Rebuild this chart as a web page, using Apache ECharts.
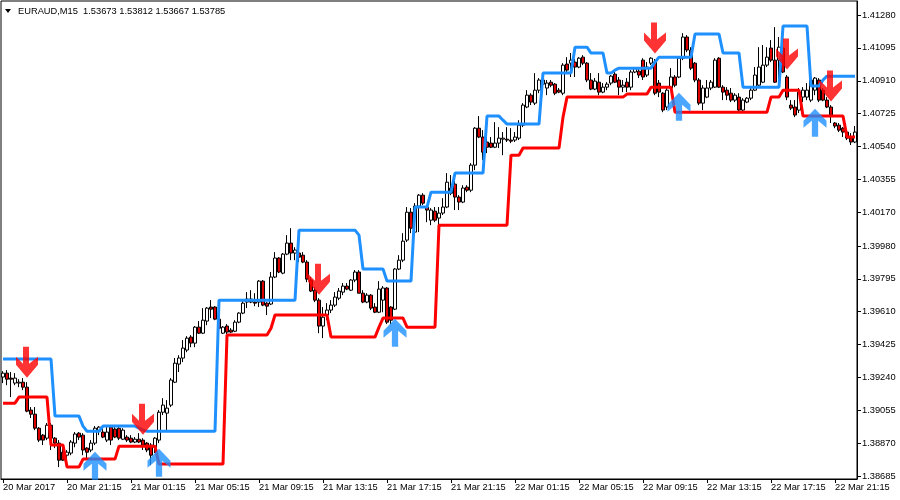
<!DOCTYPE html>
<html>
<head>
<meta charset="utf-8">
<script src="https://cdn.jsdelivr.net/npm/echarts@6/dist/echarts.min.js"></script>
<style>html,body{margin:0;padding:0;background:#fff}#c{width:900px;height:500px}</style>
</head>
<body>
<div id="c"></div>
<script>
const titleText = 'EURAUD,M15  1.53673 1.53812 1.53667 1.53785';
const tickLabelsX = ['20 Mar 2017','20 Mar 21:15','21 Mar 01:15','21 Mar 05:15','21 Mar 09:15','21 Mar 13:15','21 Mar 17:15','21 Mar 21:15','22 Mar 01:15','22 Mar 05:15','22 Mar 09:15','22 Mar 13:15','22 Mar 17:15','22 Mar 21:15'];
const yTicks = [1.38685,1.38870,1.39055,1.39240,1.39425,1.39610,1.39795,1.39980,1.40170,1.40355,1.40540,1.40725,1.40910,1.41095,1.41280];

// [open, close, low, high] per M15 bar
const ohlc = [
[1.39242,1.39264,1.39208,1.39275],[1.39264,1.39230,1.39196,1.39281],[1.39236,1.39230,1.39129,1.39270],[1.39208,1.39236,1.39196,1.39264],
[1.39208,1.39213,1.39185,1.39230],[1.39213,1.39185,1.39168,1.39236],[1.39185,1.39050,1.39044,1.39213],[1.39056,1.39033,1.39011,1.39073],
[1.39033,1.38954,1.38943,1.39073],[1.38954,1.38887,1.38876,1.38960],[1.38915,1.38887,1.38859,1.38921],[1.38898,1.38971,1.38887,1.38983],
[1.38971,1.38898,1.38831,1.38983],[1.38898,1.38870,1.38842,1.38904],[1.38870,1.38774,1.38735,1.38887],[1.38819,1.38774,1.38769,1.38847],
[1.38802,1.38819,1.38774,1.38831],[1.38814,1.38876,1.38802,1.38887],[1.38870,1.38921,1.38847,1.38932],[1.38926,1.38904,1.38887,1.38932],
[1.38915,1.38831,1.38802,1.38926],[1.38842,1.38819,1.38785,1.38847],[1.38831,1.38870,1.38819,1.38887],[1.38870,1.38954,1.38859,1.38966],
[1.38937,1.38960,1.38915,1.38966],[1.38932,1.38904,1.38898,1.38960],[1.38887,1.38932,1.38876,1.38960],[1.38960,1.38887,1.38859,1.38971],
[1.38949,1.38904,1.38898,1.38960],[1.38954,1.38898,1.38887,1.38960],[1.38892,1.38943,1.38887,1.38954],[1.38904,1.38887,1.38876,1.38915],
[1.38898,1.38876,1.38870,1.38915],[1.38876,1.38892,1.38870,1.38904],[1.38892,1.38876,1.38870,1.38926],[1.38887,1.38859,1.38831,1.38898],
[1.38870,1.38831,1.38819,1.38876],[1.38859,1.38802,1.38746,1.38870],[1.38847,1.38898,1.38814,1.38904],[1.38887,1.39044,1.38870,1.39056],
[1.39044,1.39084,1.39028,1.39123],[1.39039,1.39067,1.38943,1.39112],[1.39084,1.39225,1.39073,1.39236],[1.39213,1.39320,1.39208,1.39349],
[1.39315,1.39349,1.39270,1.39365],[1.39349,1.39405,1.39326,1.39450],[1.39394,1.39461,1.39382,1.39472],[1.39467,1.39433,1.39410,1.39478],
[1.39433,1.39523,1.39410,1.39529],[1.39523,1.39489,1.39484,1.39557],[1.39489,1.39562,1.39484,1.39630],[1.39557,1.39630,1.39534,1.39636],
[1.39636,1.39624,1.39574,1.39675],[1.39636,1.39568,1.39562,1.39641],[1.39568,1.39517,1.39484,1.39579],[1.39489,1.39523,1.39484,1.39529],
[1.39529,1.39495,1.39484,1.39540],[1.39506,1.39495,1.39489,1.39517],[1.39500,1.39551,1.39495,1.39562],[1.39551,1.39602,1.39545,1.39607],
[1.39602,1.39658,1.39596,1.39675],[1.39664,1.39681,1.39630,1.39720],[1.39681,1.39664,1.39658,1.39731],[1.39664,1.39658,1.39641,1.39714],
[1.39664,1.39782,1.39636,1.39788],[1.39782,1.39647,1.39641,1.39788],[1.39658,1.39641,1.39591,1.39664],[1.39653,1.39805,1.39647,1.39833],
[1.39805,1.39912,1.39799,1.39945],[1.39912,1.39833,1.39827,1.39917],[1.39827,1.39934,1.39821,1.39940],[1.39934,1.39996,1.39928,1.40041],
[1.39996,1.39940,1.39900,1.40080],[1.39940,1.39957,1.39900,1.39973],[1.39940,1.39917,1.39889,1.39957],[1.39928,1.39889,1.39883,1.39945],
[1.39889,1.39793,1.39776,1.39900],[1.39788,1.39726,1.39720,1.39805],[1.39731,1.39675,1.39664,1.39748],[1.39675,1.39529,1.39489,1.39686],
[1.39529,1.39579,1.39461,1.39636],[1.39591,1.39619,1.39562,1.39658],[1.39619,1.39647,1.39602,1.39675],[1.39647,1.39692,1.39636,1.39720],
[1.39686,1.39726,1.39675,1.39743],[1.39720,1.39754,1.39703,1.39771],[1.39754,1.39737,1.39731,1.39771],[1.39731,1.39788,1.39726,1.39793],
[1.39788,1.39833,1.39776,1.39844],[1.39833,1.39714,1.39714,1.39844],[1.39714,1.39664,1.39658,1.39731],[1.39664,1.39703,1.39658,1.39714],
[1.39703,1.39630,1.39619,1.39709],[1.39636,1.39607,1.39602,1.39658],[1.39607,1.39737,1.39602,1.39782],[1.39675,1.39743,1.39607,1.39754],
[1.39743,1.39551,1.39540,1.39748],[1.39636,1.39562,1.39540,1.39641],[1.39624,1.39850,1.39619,1.39855],[1.39850,1.39900,1.39844,1.39928],
[1.39900,1.40007,1.39889,1.40052],[1.40013,1.40170,1.40002,1.40199],[1.40170,1.40080,1.40052,1.40193],[1.40058,1.40204,1.40052,1.40221],
[1.40204,1.40266,1.40058,1.40272],[1.40266,1.40221,1.40210,1.40277],[1.40199,1.40182,1.40114,1.40210],[1.40125,1.40182,1.40097,1.40193],
[1.40176,1.40125,1.40114,1.40199],[1.40137,1.40165,1.40097,1.40199],[1.40165,1.40199,1.40154,1.40249],[1.40199,1.40339,1.40193,1.40390],
[1.40306,1.40277,1.40266,1.40379],[1.40328,1.40255,1.40182,1.40351],[1.40255,1.40227,1.40182,1.40266],[1.40227,1.40306,1.40221,1.40322],
[1.40311,1.40294,1.40283,1.40322],[1.40294,1.40435,1.40283,1.40446],[1.40435,1.40643,1.40407,1.40649],[1.40643,1.40593,1.40587,1.40711],
[1.40593,1.40508,1.40463,1.40632],[1.40565,1.40536,1.40503,1.40615],[1.40559,1.40536,1.40531,1.40593],[1.40536,1.40559,1.40531,1.40677],
[1.40559,1.40587,1.40531,1.40649],[1.40581,1.40587,1.40491,1.40621],[1.40581,1.40576,1.40565,1.40649],[1.40576,1.40570,1.40559,1.40643],
[1.40576,1.40593,1.40565,1.40621],[1.40587,1.40660,1.40576,1.40688],[1.40660,1.40773,1.40649,1.40784],[1.40762,1.40829,1.40756,1.40857],
[1.40829,1.40790,1.40773,1.40840],[1.40784,1.40857,1.40773,1.40953],[1.40857,1.40914,1.40840,1.40925],[1.40891,1.40914,1.40846,1.40953],
[1.40869,1.40897,1.40829,1.40914],[1.40902,1.40885,1.40874,1.40914],[1.40891,1.40840,1.40829,1.40897],[1.40857,1.40846,1.40840,1.40869],
[1.40840,1.40998,1.40829,1.41009],[1.41004,1.40970,1.40959,1.41043],[1.41009,1.41026,1.40931,1.41066],[1.41015,1.40987,1.40931,1.41032],
[1.40987,1.41037,1.40981,1.41043],[1.41043,1.41009,1.40998,1.41054],[1.41009,1.40914,1.40902,1.41015],[1.40914,1.40863,1.40857,1.40953],
[1.40863,1.40908,1.40857,1.40925],[1.40902,1.40846,1.40829,1.40953],[1.40846,1.40874,1.40840,1.40897],[1.40874,1.40891,1.40857,1.40902],
[1.40897,1.40936,1.40885,1.40942],[1.40947,1.40902,1.40897,1.40959],[1.40914,1.40874,1.40829,1.40931],[1.40874,1.40885,1.40846,1.40914],
[1.40902,1.40874,1.40846,1.40925],[1.40874,1.40959,1.40857,1.40970],[1.40959,1.40981,1.40953,1.40987],[1.40964,1.40942,1.40925,1.40987],
[1.41026,1.40931,1.40914,1.41037],[1.40942,1.40987,1.40931,1.41015],[1.41009,1.41037,1.40998,1.41043],[1.41015,1.40840,1.40829,1.41032],
[1.40897,1.40846,1.40818,1.40914],[1.40840,1.40745,1.40733,1.40846],[1.40762,1.40857,1.40745,1.40874],[1.40869,1.40931,1.40857,1.40981],
[1.40931,1.40885,1.40874,1.40942],[1.40931,1.41037,1.40925,1.41043],[1.41037,1.41156,1.41026,1.41178],[1.41156,1.41083,1.41071,1.41167],
[1.41083,1.40981,1.40970,1.41099],[1.41009,1.40914,1.40902,1.41015],[1.40914,1.40784,1.40773,1.40925],[1.40784,1.40869,1.40745,1.40885],
[1.40818,1.40869,1.40812,1.40914],[1.40869,1.40902,1.40857,1.40914],[1.40874,1.41026,1.40869,1.41037],[1.41037,1.40874,1.40869,1.41043],
[1.40874,1.40846,1.40801,1.40885],[1.40857,1.40829,1.40801,1.40874],[1.40840,1.40801,1.40790,1.40869],[1.40801,1.40829,1.40790,1.40840],
[1.40818,1.40745,1.40733,1.40840],[1.40745,1.40801,1.40733,1.40812],[1.40790,1.40812,1.40784,1.40818],[1.40812,1.40857,1.40801,1.40874],
[1.40857,1.40942,1.40852,1.40987],[1.40885,1.40987,1.40874,1.41099],[1.40902,1.40998,1.40897,1.41111],[1.40998,1.41043,1.40987,1.41099],
[1.41094,1.41026,1.41015,1.41139],[1.41026,1.40902,1.40897,1.41212],[1.41026,1.41099,1.40902,1.41156],[1.41094,1.40959,1.40953,1.41099],
[1.40931,1.40818,1.40801,1.40942],[1.40773,1.40756,1.40745,1.40801],[1.40762,1.40717,1.40705,1.40801],[1.40745,1.40846,1.40728,1.40869],
[1.40818,1.40857,1.40790,1.40874],[1.40818,1.40857,1.40801,1.40897],[1.40801,1.40914,1.40790,1.40925],[1.40857,1.40925,1.40829,1.40931],
[1.40914,1.40801,1.40790,1.40925],[1.40857,1.40801,1.40795,1.40869],[1.40801,1.40762,1.40756,1.40818],[1.40762,1.40717,1.40672,1.40773],
[1.40672,1.40655,1.40643,1.40677],[1.40660,1.40632,1.40621,1.40672],[1.40643,1.40621,1.40593,1.40649],[1.40621,1.40587,1.40576,1.40632],
[1.40587,1.40565,1.40548,1.40615],[1.40565,1.40621,1.40559,1.40655]
];

// upper channel (blue) per bar
const blueLine = [
1.39343,1.39343,1.39343,1.39343,1.39343,1.39343,1.39343,1.39343,1.39343,1.39343,
1.39343,1.39343,1.39343,1.39022,1.39022,1.39022,1.39022,1.39022,1.39022,1.39022,
1.38966,1.38937,1.38937,1.38937,1.38937,1.38966,1.38966,1.38966,1.38966,1.38966,
1.38966,1.38966,1.38966,1.38966,1.38954,1.38943,1.38937,1.38937,1.38937,1.38937,
1.38937,1.38937,1.38937,1.38937,1.38937,1.38937,1.38937,1.38937,1.38937,1.38937,
1.38937,1.38937,1.38937,1.38937,1.39675,1.39675,1.39675,1.39675,1.39675,1.39675,
1.39675,1.39675,1.39675,1.39675,1.39675,1.39675,1.39675,1.39675,1.39675,1.39675,
1.39675,1.39675,1.39675,1.39675,1.40069,1.40069,1.40069,1.40069,1.40069,1.40069,
1.40069,1.40069,1.40069,1.40069,1.40069,1.40069,1.40069,1.40069,1.40069,1.40041,
1.39850,1.39850,1.39850,1.39850,1.39850,1.39850,1.39782,1.39782,1.39782,1.39782,
1.39782,1.39782,1.39782,1.40199,1.40199,1.40199,1.40199,1.40283,1.40283,1.40283,
1.40283,1.40283,1.40283,1.40390,1.40390,1.40390,1.40390,1.40390,1.40390,1.40390,
1.40390,1.40711,1.40711,1.40711,1.40711,1.40688,1.40666,1.40666,1.40666,1.40666,
1.40666,1.40666,1.40666,1.40666,1.40666,1.40953,1.40953,1.40953,1.40953,1.40953,
1.40953,1.40953,1.40953,1.41099,1.41099,1.41099,1.41099,1.41066,1.41066,1.41066,
1.41066,1.40953,1.40953,1.40970,1.40981,1.40981,1.40981,1.40981,1.40981,1.40981,
1.40981,1.40981,1.40981,1.41015,1.41043,1.41043,1.41043,1.41043,1.41043,1.41043,
1.41043,1.41043,1.41043,1.41173,1.41173,1.41173,1.41173,1.41173,1.41173,1.41173,
1.41066,1.41066,1.41066,1.41066,1.41066,1.40874,1.40874,1.40874,1.40874,1.40874,
1.40874,1.40874,1.40874,1.40874,1.40874,1.41218,1.41218,1.41218,1.41218,1.41218,
1.41218,1.41218,1.40880,1.40880,1.40880,1.40914,1.40936,1.40936,1.40936,1.40936,
1.40936,1.40936,1.40936,1.40936
];

// lower channel (red) per bar
const redLine = [
1.39095,1.39095,1.39095,1.39095,1.39129,1.39129,1.39129,1.39129,1.39129,1.39129,
1.39129,1.39129,1.38859,1.38859,1.38859,1.38859,1.38735,1.38735,1.38735,1.38735,
1.38780,1.38780,1.38780,1.38780,1.38780,1.38780,1.38780,1.38780,1.38780,1.38853,
1.38853,1.38853,1.38853,1.38853,1.38853,1.38853,1.38853,1.38853,1.38853,1.38752,
1.38752,1.38752,1.38752,1.38752,1.38752,1.38752,1.38752,1.38752,1.38752,1.38752,
1.38752,1.38752,1.38752,1.38752,1.38752,1.38752,1.39478,1.39478,1.39478,1.39478,
1.39478,1.39478,1.39478,1.39478,1.39478,1.39478,1.39478,1.39517,1.39591,1.39591,
1.39591,1.39591,1.39591,1.39591,1.39591,1.39591,1.39591,1.39591,1.39591,1.39591,
1.39591,1.39591,1.39467,1.39467,1.39467,1.39467,1.39467,1.39467,1.39467,1.39467,
1.39467,1.39467,1.39467,1.39467,1.39523,1.39574,1.39574,1.39574,1.39574,1.39574,
1.39574,1.39523,1.39523,1.39523,1.39523,1.39523,1.39523,1.39523,1.39523,1.40097,
1.40097,1.40097,1.40097,1.40097,1.40097,1.40097,1.40097,1.40097,1.40097,1.40097,
1.40097,1.40097,1.40097,1.40097,1.40097,1.40097,1.40097,1.40491,1.40491,1.40491,
1.40531,1.40531,1.40531,1.40531,1.40531,1.40531,1.40531,1.40531,1.40531,1.40531,
1.40705,1.40818,1.40818,1.40818,1.40818,1.40818,1.40818,1.40818,1.40818,1.40818,
1.40818,1.40818,1.40818,1.40818,1.40818,1.40818,1.40835,1.40835,1.40835,1.40835,
1.40835,1.40835,1.40874,1.40874,1.40874,1.40874,1.40874,1.40874,1.40733,1.40733,
1.40733,1.40733,1.40733,1.40733,1.40733,1.40733,1.40733,1.40733,1.40733,1.40733,
1.40733,1.40733,1.40733,1.40733,1.40733,1.40733,1.40733,1.40733,1.40733,1.40733,
1.40733,1.40733,1.40818,1.40818,1.40818,1.40857,1.40857,1.40857,1.40857,1.40857,
1.40711,1.40711,1.40711,1.40711,1.40711,1.40711,1.40711,1.40711,1.40711,1.40711,
1.40711,1.40593,1.40593,1.40593
];

// signal arrows: bar index and price at arrow centre
const sellArrowBar = [6, 35, 79, 163, 196, 207];
const sellArrowPrice = [1.39325, 1.39005, 1.39793, 1.41150, 1.41060, 1.40880];
const buyArrowBar = [23, 39, 98, 169, 203];
const buyArrowPrice = [1.38743, 1.38760, 1.39492, 1.40764, 1.40674];

const FONT = '"Liberation Sans", Arial, sans-serif';
const categories = ohlc.map((_, i) => String(i));
const every16 = (i) => i % 16 === 0;
const downPath = 'path://M7,0 L13,0 L13,17 L22,10 L22,18 L11,31 L0,18 L0,10 L7,17 Z';
const upPath = 'path://M11,0 L22,12 L22,19 L14,12 L14,28 L8,28 L8,12 L0,19 L0,12 Z';

const chart = echarts.init(document.getElementById('c'), null, {renderer: 'canvas'});
chart.setOption({
  animation: false,
  backgroundColor: '#fff',
  grid: {left: 1, right: 43, top: 1, bottom: 21, show: true, borderColor: '#000', borderWidth: 1,
         containLabel: false, outerBoundsMode: 'none'},
  xAxis: {
    type: 'category', data: categories, boundaryGap: true,
    axisLine: {show: true, lineStyle: {color: '#000', width: 1}},
    axisTick: {show: true, alignWithLabel: true, interval: every16, length: 4, lineStyle: {color: '#000'}},
    axisLabel: {interval: every16, formatter: (v, i) => tickLabelsX[i / 16], align: 'left', margin: 4,
                color: '#000', fontSize: 9.3, fontFamily: FONT},
    splitLine: {show: false}
  },
  yAxis: {
    type: 'value', position: 'right', min: 1.38668, max: 1.41359, scale: true,
    axisLine: {show: true, lineStyle: {color: '#000', width: 1}},
    axisTick: {show: true, customValues: yTicks, length: 4, lineStyle: {color: '#000'}},
    axisLabel: {customValues: yTicks, formatter: (v) => v.toFixed(5), margin: 5, color: '#000',
                fontSize: 9.3, fontFamily: FONT},
    splitLine: {show: false}
  },
  graphic: [
    {type: 'polygon', shape: {points: [[5, 9], [11, 9], [8, 13]]}, style: {fill: '#000'}, z: 100},
    {type: 'text', x: 18, y: 11, z: 100,
     style: {text: titleText, fill: '#000', font: '9.3px ' + FONT, verticalAlign: 'middle'}}
  ],
  series: [
    {
      type: 'candlestick', data: ohlc, barWidth: 3,
      itemStyle: {color: '#ffffff', color0: '#dd0000', borderColor: '#000', borderColor0: '#000', borderWidth: 1}
    },
    {type: 'line', data: blueLine, symbol: 'none', lineStyle: {color: '#1E90FF', width: 3}, z: 3},
    {type: 'line', data: redLine, symbol: 'none', lineStyle: {color: '#FF0000', width: 3}, z: 3},
    {type: 'scatter', data: sellArrowBar.map((b, k) => [b, sellArrowPrice[k]]), symbol: downPath,
     symbolSize: [22, 31], itemStyle: {color: '#FF0000'}, z: 5, clip: false},
    {type: 'scatter', data: buyArrowBar.map((b, k) => [b, buyArrowPrice[k]]), symbol: upPath,
     symbolSize: [23, 28], itemStyle: {color: '#1E90FF'}, z: 5, clip: false}
  ]
});
</script>
</body>
</html>
